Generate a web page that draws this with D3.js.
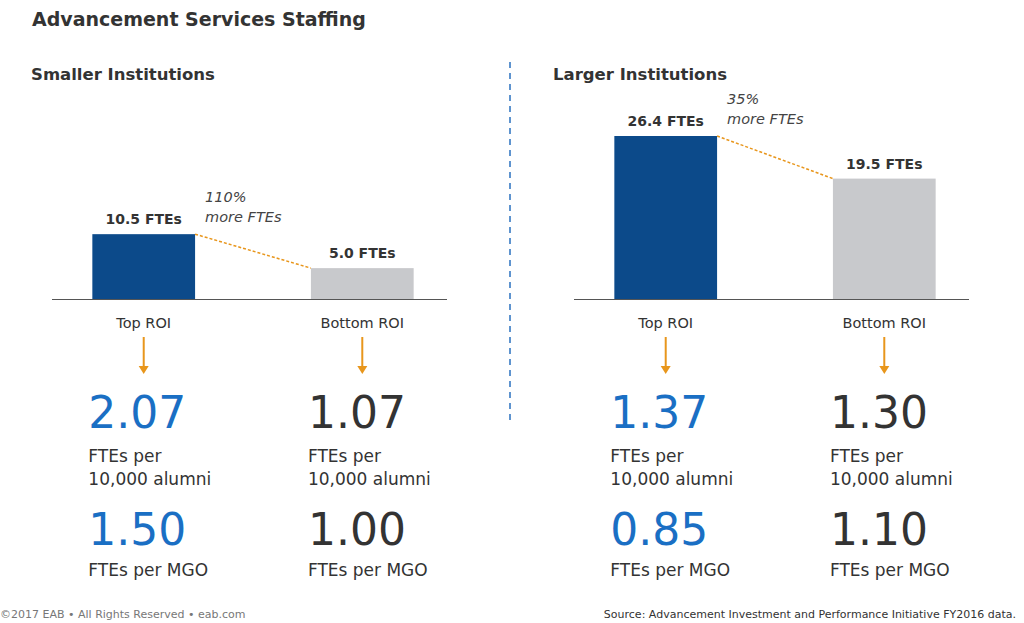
<!DOCTYPE html><html><head><meta charset="utf-8"><script src="https://cdn.jsdelivr.net/npm/d3@7"></script>
<style>body{margin:0;background:#fff}text{font-family:"DejaVu Sans",Verdana,sans-serif}</style></head><body>
<svg id="c" width="1024" height="623"></svg>
<script>
const panels=["Smaller Institutions","Larger Institutions"];
const categories=["Top ROI","Bottom ROI"];
const ftes=[[10.5,5.0],[26.4,19.5]];
const diffLabels=["110%","35%"];
const perAlumni=[["2.07","1.07"],["1.37","1.30"]];
const perMGO=[["1.50","1.00"],["0.85","1.10"]];
const svg=d3.select("#c");
const y=d3.scaleLinear().domain([0,26.4]).range([299,136]);
const colors=["#0c4a8a","#c8c9cc"];
svg.append("text").attr("x",32).attr("y",26).attr("font-size",19).attr("font-weight","bold").attr("fill","#333").text("Advancement Services Staffing");
svg.append("line").attr("x1",510).attr("x2",510).attr("y1",62).attr("y2",422).attr("stroke","#2a72c0").attr("stroke-width",1.5).attr("stroke-dasharray","6,5");
const offs=[0,522];
panels.forEach((p,i)=>{
 const g=svg.append("g").attr("transform",`translate(${offs[i]},0)`);
 g.append("text").attr("x",31).attr("y",80).attr("font-size",16.5).attr("font-weight","bold").attr("fill","#333").text(p);
 const x=d3.scaleBand().domain(categories).range([53,453]).paddingInner(0.53).paddingOuter(0.18);
 g.append("line").attr("x1",52).attr("x2",447).attr("y1",299.5).attr("y2",299.5).attr("stroke","#555");
 categories.forEach((c,j)=>{
  const v=ftes[i][j],cx=x(c)+x.bandwidth()/2;
  g.append("rect").attr("x",x(c)).attr("width",x.bandwidth()).attr("y",y(v)).attr("height",y(0)-y(v)).attr("fill",colors[j]);
  g.append("text").attr("x",cx).attr("y",y(v)-10).attr("text-anchor","middle").attr("font-size",14).attr("font-weight","bold").attr("fill","#333").text(v.toFixed(1)+" FTEs");
  g.append("text").attr("x",cx).attr("y",328).attr("text-anchor","middle").attr("font-size",14.5).attr("fill","#333").text(c);
  g.append("line").attr("x1",cx).attr("x2",cx).attr("y1",337).attr("y2",368).attr("stroke","#e8961c").attr("stroke-width",2);
  g.append("path").attr("d",`M${cx-5},${366}L${cx+5},${366}L${cx},${374}Z`).attr("fill","#e8961c");
  const tx=x(c)-4+ (j?1:0);
  const col=j?"#333":"#1a6fc4";
  g.append("text").attr("x",tx).attr("y",428).attr("font-family","'DejaVu Serif',serif").attr("font-size",44).attr("fill",col).text(perAlumni[i][j]);
  g.append("text").attr("x",tx).attr("y",462).attr("font-size",17).attr("fill","#333").text("FTEs per");
  g.append("text").attr("x",tx).attr("y",485).attr("font-size",17).attr("fill","#333").text("10,000 alumni");
  g.append("text").attr("x",tx).attr("y",545).attr("font-family","'DejaVu Serif',serif").attr("font-size",44).attr("fill",col).text(perMGO[i][j]);
  g.append("text").attr("x",tx).attr("y",576).attr("font-size",17).attr("fill","#333").text("FTEs per MGO");
 });
 const x1=x(categories[0])+x.bandwidth(),x2=x(categories[1]);
 g.append("line").attr("x1",x1).attr("y1",y(ftes[i][0])).attr("x2",x2).attr("y2",y(ftes[i][1])).attr("stroke","#e8961c").attr("stroke-width",1.5).attr("stroke-dasharray","3,2");
 const ay=y(ftes[i][0]);
 g.append("text").attr("x",x1+10).attr("y",ay-32).attr("font-size",14.5).attr("font-style","italic").attr("fill","#444").text(diffLabels[i]);
 g.append("text").attr("x",x1+10).attr("y",ay-12).attr("font-size",14.5).attr("font-style","italic").attr("fill","#444").text("more FTEs");
});
svg.append("text").attr("x",0).attr("y",618).attr("font-family","'Liberation Sans Narrow','DejaVu Sans Condensed',sans-serif").attr("font-size",11).attr("fill","#777").text("©2017 EAB • All Rights Reserved • eab.com");
svg.append("text").attr("x",1016).attr("y",618).attr("text-anchor","end").attr("font-family","'DejaVu Sans Condensed',sans-serif").attr("font-size",11).attr("fill","#333").text("Source: Advancement Investment and Performance Initiative FY2016 data.");
</script></body></html>
